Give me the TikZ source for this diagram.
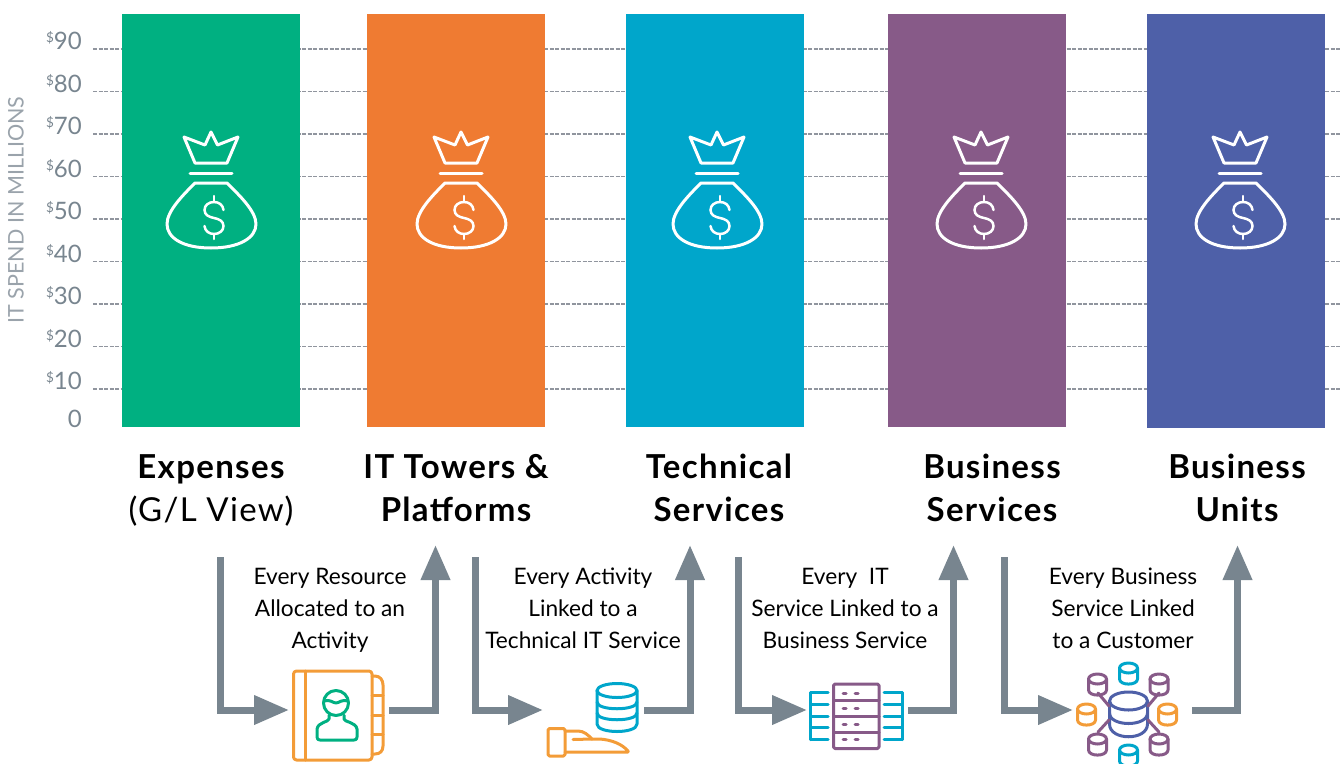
\documentclass[tikz,border=0pt]{standalone}
\usepackage{fontspec}
\setmainfont{Lato}
\newfontfamily\headfont[LetterSpace=4]{Lato}
\usetikzlibrary{arrows.meta}
\definecolor{cgreen}{HTML}{00B081}
\definecolor{corange}{HTML}{EF7B32}
\definecolor{ccyan}{HTML}{00A6CB}
\definecolor{cpurple}{HTML}{875A88}
\definecolor{cblue}{HTML}{4E60A8}
\definecolor{cicono}{HTML}{F39C38}
\definecolor{cgray}{HTML}{78858F}
\definecolor{cgrid}{HTML}{90959E}
\tikzset{
  x=1pt,y=-1pt,
  barbox/.style={minimum width=178pt,inner sep=0pt,outer sep=0pt,anchor=north west},
  gridline/.style={draw=cgrid,line width=1.2pt,dash pattern=on 4pt off 1.5pt},
  ticklabel/.style={text=cgray,font=\fontsize{24}{24}\selectfont,anchor=east,inner sep=0pt},
  headlabel/.style={font=\headfont\fontsize{33}{43}\selectfont\bfseries,align=center,inner sep=0pt,text=black},
  sublabel/.style={font=\fontsize{22.7}{32}\selectfont,align=center,inner sep=0pt,text=black},
  flow/.style={draw=cgray,line width=7pt,line join=miter,-{Triangle[length=35pt,width=28pt]}},
  bagline/.style={draw=white,line width=3pt,line join=round,line cap=round},
  iconline/.style={line width=3pt,line join=round,line cap=round},
  pics/moneybag/.style={code={
    \draw[bagline] (-27,-86) -- (-6,-78) -- (0,-91) -- (6.5,-78) -- (27,-86) -- (16,-60) -- (-16,-60) -- cycle;
    \draw[bagline] (-21,-50) -- (21,-50);
    \draw[bagline] (-16,-40) -- (16,-40) .. controls (28,-28) and (45,-12) .. (45,1)
       .. controls (45,15) and (28,25) .. (0,25) .. controls (-28,25) and (-44,15) .. (-44,1)
       .. controls (-44,-12) and (-28,-28) .. (-16,-40) -- cycle;
    \draw[draw=white,line width=2.5pt,line cap=round] (12.5,-13) .. controls (12,-18) and (8,-21) .. (3,-21)
       .. controls (-2,-21) and (-6.5,-18) .. (-6.5,-13) .. controls (-6.5,-8) and (-2,-6) .. (3,-5)
       .. controls (8,-4) and (12.5,-2) .. (12.5,3) .. controls (12.5,8) and (8,11) .. (3,11)
       .. controls (-2,11) and (-6,8) .. (-6.5,3);
    \draw[draw=white,line width=2.5pt,line cap=round] (3,-27) -- (3,-21);
    \draw[draw=white,line width=2.5pt,line cap=round] (3,11) -- (3,16);
  }},
  pics/dbcyl/.style={code={
    \draw[iconline] (0,0) ellipse[x radius=\cylrx,y radius=\cylry];
    \draw[iconline] (-\cylrx,0) -- (-\cylrx,\cylh) .. controls (-\cylrx,\cylh+1.35*\cylry) and (\cylrx,\cylh+1.35*\cylry) .. (\cylrx,\cylh) -- (\cylrx,0);
  }}
}
\newcommand{\cylrx}{9}\newcommand{\cylry}{5}\newcommand{\cylh}{11}
\begin{document}
\begin{tikzpicture}
\useasboundingbox (0,0) rectangle (1340,763);
% grid
\foreach \yy [count=\i] in {49,91.5,134,176.5,219,261.5,304,346.5,389}{
  \coordinate (gl\i) at (93,\yy); \coordinate (gr\i) at (1340,\yy);
  \draw[gridline] (gl\i) -- (gr\i);
}
% axis labels
\foreach \yy/\lab in {41/90,84/80,126/70,169/60,211/50,254/40,296/30,339/20,381/10}{
  \node[ticklabel] (t\lab) at (82,\yy) {\raisebox{7pt}{\fontsize{13.5}{13.5}\selectfont\$}\lab};
}
\node[ticklabel] (t0) at (82,419) {0};
\node[rotate=90,text=cgray!75,font=\fontsize{21.5}{22}\selectfont,inner sep=0pt] (ylab) at (16,210) {IT SPEND IN MILLIONS};
% bars
\node[barbox,fill=cgreen,minimum height=413pt] (b1) at (122,14) {};
\node[barbox,fill=corange,minimum height=413pt] (b2) at (367,14) {};
\node[barbox,fill=ccyan,minimum height=413pt] (b3) at (626,14) {};
\node[barbox,fill=cpurple,minimum height=413pt] (b4) at (888,14) {};
\node[barbox,fill=cblue,minimum height=414pt] (b5) at (1147,14) {};
\foreach \xx in {211,461,717,981,1240}{ \pic at (\xx,223) {moneybag}; }
% headings
\node[headlabel] (h1) at (211,491) {\strut Expenses\\\strut\mdseries (G/L View)};
\node[headlabel] (h2) at (456,491) {\strut IT Towers \&\\\strut Platforms};
\node[headlabel] (h3) at (719,491) {\strut Technical\\\strut Services};
\node[headlabel] (h4) at (992,491) {\strut Business\\\strut Services};
\node[headlabel] (h5) at (1237,491) {\strut Business\\\strut Units};
% sub labels
\node[sublabel] (s1) at (330,610) {\strut Every Resource\\\strut Allocated to an\\\strut Activity};
\node[sublabel] (s2) at (583,610) {\strut Every Activity\\\strut Linked to a\\\strut Technical IT Service};
\node[sublabel] (s3) at (845,610) {\strut Every\ \ IT\\\strut Service Linked to a\\\strut Business Service};
\node[sublabel] (s4) at (1123,610) {\strut Every Business\\\strut Service Linked\\\strut to a Customer};
% connector end points
\coordinate (a1s) at (220.5,557); \coordinate (a1t) at (289,710);
\coordinate (a1o) at (389,710);   \coordinate (a1u) at (435.5,545);
\coordinate (a2s) at (475.5,557); \coordinate (a2t) at (543,710);
\coordinate (a2o) at (644,710);   \coordinate (a2u) at (690,545);
\coordinate (a3s) at (738.5,557); \coordinate (a3t) at (807,710);
\coordinate (a3o) at (908,710);   \coordinate (a3u) at (953.5,545);
\coordinate (a4s) at (1004.5,557);\coordinate (a4t) at (1073,710);
\coordinate (a4o) at (1192,710);  \coordinate (a4u) at (1237.5,545);
\foreach \n in {1,2,3,4}{
  \draw[flow] (a\n s) |- (a\n t);
  \draw[flow] (a\n o) -| (a\n u);
}
% book icon
\begin{scope}[draw=cicono,iconline]
  \draw[rounded corners=3pt] (293.5,671) rectangle (372,760);
  \draw (305,671) -- (305,760);
  \draw (372,676) -- (375,676) .. controls (380,676) and (383,680) .. (383,685) -- (383,746) .. controls (383,751) and (380,754) .. (375,754) -- (372,754);
  \draw (372,695) -- (383,695); \draw (372,715) -- (383,715); \draw (372,734) -- (383,734);
\end{scope}
\begin{scope}[draw=cgreen,iconline]
  \draw (336,703) circle[radius=12.5];
  \draw (324,701) .. controls (330,699) and (333,703) .. (336,703) .. controls (339,703) and (342,699) .. (348,701);
  \draw (329,715) -- (329,719) .. controls (329,722) and (318,722) .. (317,729) -- (317,737) .. controls (317,739) and (318,740) .. (320,740) -- (354,740) .. controls (356,740) and (357,739) .. (357,737) -- (357,729) .. controls (356,722) and (344,722) .. (344,719) -- (344,715);
\end{scope}
% database + hand icon
\begin{scope}[draw=ccyan,iconline]
  \draw (617,690.5) ellipse[x radius=20,y radius=7];
  \draw (597,690.5) -- (597,724) .. controls (597,734) and (637,734) .. (637,724) -- (637,690.5);
  \draw (597,702) .. controls (597,711) and (637,711) .. (637,702);
  \draw (597,713) .. controls (597,722) and (637,722) .. (637,713);
\end{scope}
\begin{scope}[draw=cicono,iconline]
  \draw[rounded corners=1.5pt] (548,728.5) rectangle (565,756);
  \draw (565,731) -- (578,731) .. controls (584,731) and (588,735) .. (592,739) -- (600,739) .. controls (612,740) and (622,744) .. (628,751) -- (628,752) -- (565,752);
  \draw (573,739.5) -- (592,739);
\end{scope}
% server icon
\begin{scope}[draw=cpurple,iconline]
  \draw[rounded corners=1.5pt] (833.5,684) rectangle (879,748.5);
  \foreach \yy in {700.5,716.5,732.5}{\draw (833.5,\yy) -- (879,\yy);}
  \foreach \yy in {693,708.5,724,739.5}{
    \draw (843,\yy) -- (846,\yy); \draw (855,\yy) -- (858,\yy);
  }
\end{scope}
\begin{scope}[draw=ccyan,iconline]
  \draw (810.5,692.5) -- (810.5,739.5);
  \draw (902,692.5) -- (902,739.5);
  \foreach \yy in {692.5,704.2,716,727.8,739.5}{
    \draw (810.5,\yy) -- (828,\yy);
    \draw (884,\yy) -- (902,\yy);
  }
\end{scope}
% network icon
\begin{scope}[draw=cblue,iconline]
  \draw (1128.5,701) ellipse[x radius=19,y radius=9];
  \draw (1109.5,701) -- (1109.5,724) .. controls (1109.5,741) and (1147.5,741) .. (1147.5,724) -- (1147.5,701);
  \draw (1109.5,713) .. controls (1109.5,727) and (1147.5,727) .. (1147.5,713);
\end{scope}
\begin{scope}[draw=cpurple,iconline]
  \draw (1098,693) -- (1109,706);
  \draw (1159,693) -- (1148,706);
  \draw (1098,732) -- (1109,720);
  \draw (1159,732) -- (1148,720);
  \pic at (1097.5,679) {dbcyl};
  \pic at (1159,679) {dbcyl};
  \pic at (1097.5,739) {dbcyl};
  \pic at (1159,739) {dbcyl};
\end{scope}
\begin{scope}[draw=ccyan,iconline]
  \pic at (1128.5,668) {dbcyl};
  \pic at (1128.5,750) {dbcyl};
\end{scope}
\begin{scope}[draw=cicono,iconline]
  \pic at (1086.5,709) {dbcyl};
  \pic at (1167.5,709) {dbcyl};
\end{scope}
\end{tikzpicture}
\end{document}
